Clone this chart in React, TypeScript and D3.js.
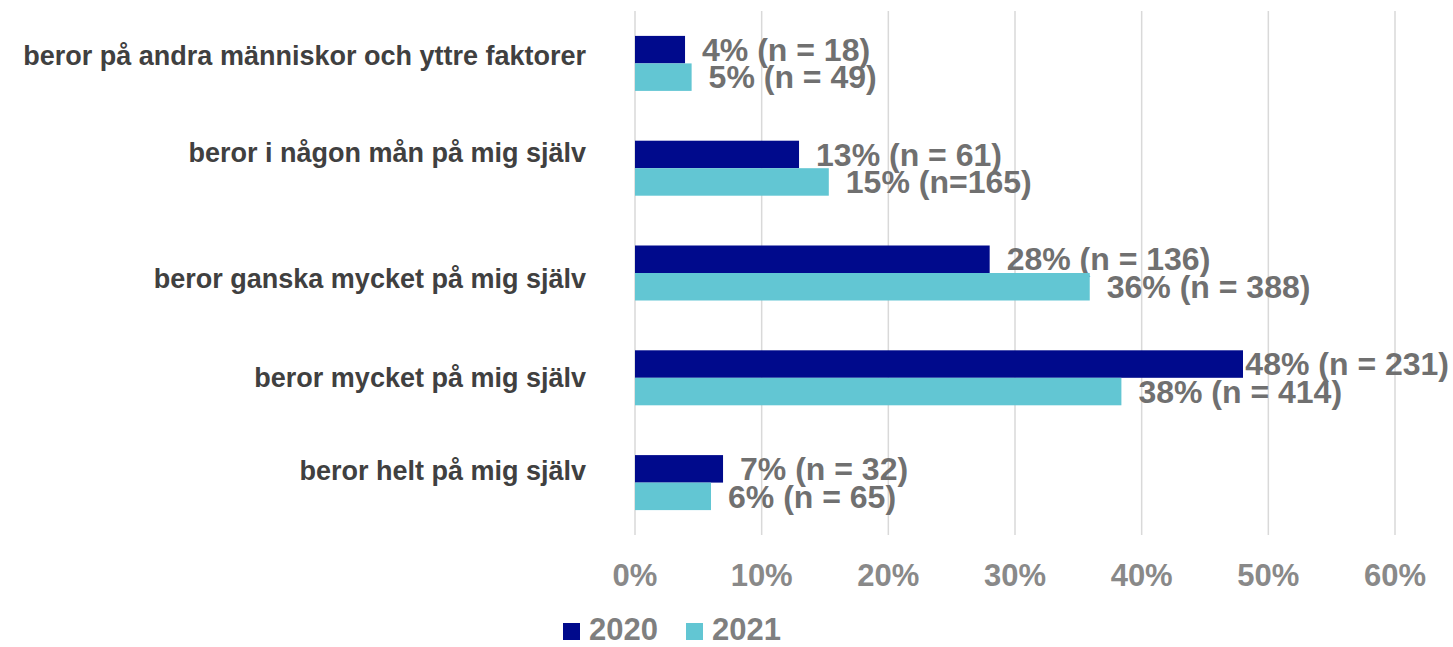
import React, { useEffect, useRef } from "react";
import * as d3 from "d3";

const categories = [
  "beror på andra människor och yttre faktorer",
  "beror i någon mån på mig själv",
  "beror ganska mycket på mig själv",
  "beror mycket på mig själv",
  "beror helt på mig själv",
];
const seriesNames = ["2020", "2021"];
const values2020 = [3.95, 12.95, 28.0, 48.0, 6.95];
const values2021 = [4.47, 15.3, 35.9, 38.4, 6.0];
const labels2020 = ["4% (n = 18)", "13% (n = 61)", "28% (n = 136)", "48% (n = 231)", "7% (n = 32)"];
const labels2021 = ["5% (n = 49)", "15% (n=165)", "36% (n = 388)", "38% (n = 414)", "6% (n = 65)"];
const xTicks = [0, 10, 20, 30, 40, 50, 60];

const W = 1453;
const H = 647;
const colors = ["#000A8C", "#62C6D3"];
const FONT = "'Liberation Sans', Arial, sans-serif";
// the source chart's category labels sit a bit off the band centers
const catNudge = [-8, -16, 6, 0, -12];

export default function App() {
  const ref = useRef<SVGSVGElement>(null);

  useEffect(() => {
    const svg = d3.select(ref.current);
    svg.selectAll("*").remove();

    const x = d3.scaleLinear().domain([0, 60]).range([635, 1395]);
    const y = d3.scaleBand().domain(categories).range([11, 535]).padding(0);
    const barH = 27.5;

    // gridlines
    svg.append("g")
      .selectAll("line")
      .data(xTicks)
      .enter()
      .append("line")
      .attr("x1", (d) => x(d))
      .attr("x2", (d) => x(d))
      .attr("y1", 11)
      .attr("y2", 535)
      .attr("stroke", "#d9d9d9")
      .attr("stroke-width", 1.5);

    // tick labels
    svg.append("g")
      .selectAll("text")
      .data(xTicks)
      .enter()
      .append("text")
      .attr("x", (d) => x(d))
      .attr("y", 586)
      .attr("text-anchor", "middle")
      .style("font-family", FONT)
      .style("font-weight", "bold")
      .style("font-size", "31px")
      .attr("fill", "#898989")
      .text((d) => d + "%");

    // category labels
    svg.append("g")
      .selectAll("text")
      .data(categories)
      .enter()
      .append("text")
      .attr("x", 586)
      .attr("y", (d, i) => (y(d) as number) + y.bandwidth() / 2 + catNudge[i])
      .attr("dy", "0.35em")
      .attr("text-anchor", "end")
      .style("font-family", FONT)
      .style("font-weight", "bold")
      .style("font-size", "27px")
      .attr("fill", "#404040")
      .text((d) => d);

    const seriesVals = [values2020, values2021];
    const seriesLabels = [labels2020, labels2021];

    seriesVals.forEach((vals, s) => {
      const g = svg.append("g");
      g.selectAll("rect")
        .data(vals)
        .enter()
        .append("rect")
        .attr("x", x(0))
        .attr("y", (d, i) => (y(categories[i]) as number) + y.bandwidth() / 2 - barH + s * barH)
        .attr("width", (d) => x(d) - x(0))
        .attr("height", barH)
        .attr("fill", colors[s]);

      g.selectAll("text")
        .data(vals)
        .enter()
        .append("text")
        .attr("x", (d) => x(d) + 17)
        .attr("y", (d, i) => (y(categories[i]) as number) + y.bandwidth() / 2 - barH / 2 + s * barH)
        .attr("dy", "0.35em")
        .style("font-family", FONT)
        .style("font-weight", "bold")
        .style("font-size", "32px")
        .attr("fill", "#707070")
        .text((d, i) => seriesLabels[s][i])
        .each(function (d) {
          const el = this as SVGTextElement;
          const w = el.getComputedTextLength();
          const px = Math.min(x(d) + 17, W - 4 - w);
          d3.select(el).attr("x", px);
        });
    });

    // legend
    const leg = svg.append("g")
      .selectAll("g")
      .data(seriesNames)
      .enter()
      .append("g")
      .attr("transform", (d, i) => "translate(" + (563 + i * 123) + ",623)");
    leg.append("rect")
      .attr("width", 17)
      .attr("height", 17)
      .attr("fill", (d, i) => colors[i]);
    leg.append("text")
      .attr("x", 26)
      .attr("y", 17)
      .style("font-family", FONT)
      .style("font-weight", "bold")
      .style("font-size", "31px")
      .attr("fill", "#7f7f7f")
      .text((d) => d);
  }, []);

  return (
    <svg
      ref={ref}
      width={W}
      height={H}
      style={{ position: "absolute", left: 0, top: 0, background: "#fff" }}
    />
  );
}
